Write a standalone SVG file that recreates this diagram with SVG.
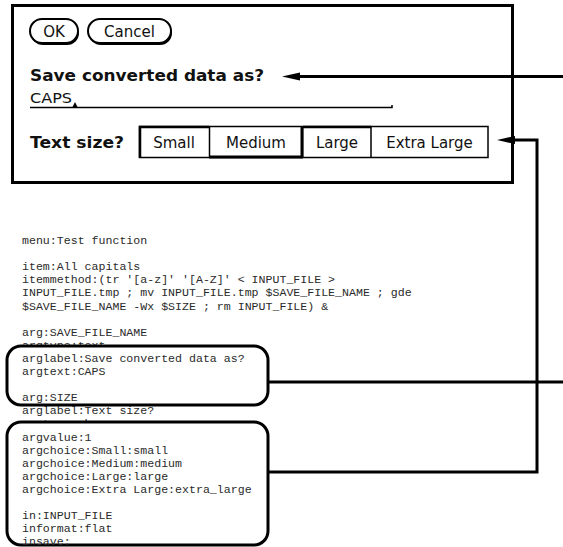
<svg xmlns="http://www.w3.org/2000/svg" width="563" height="547" viewBox="0 0 563 547">
<style>
.ui{font-family:"DejaVu Sans","Liberation Sans",sans-serif;fill:#111}
.lbl{font-size:15px;font-weight:bold}
.btn{font-size:15px}
.mono{font-family:"Liberation Mono","DejaVu Sans Mono",monospace;font-size:11.6px;fill:#2a2a2a}
.frame{fill:#fff;stroke:#000;stroke-width:3}
.pill{fill:#fff;stroke:#000;stroke-width:2}
.conn{fill:none;stroke:#000;stroke-width:3}
.rbox{fill:#fff;stroke:#000;stroke-width:3}
</style>
<defs>
<marker id="ah" markerUnits="userSpaceOnUse" markerWidth="20" markerHeight="10" refX="0" refY="4" orient="auto" overflow="visible">
<path d="M0,0 L18,4 L0,8 Z" fill="#000"/>
</marker>
</defs>
<rect width="563" height="547" fill="#fff"/>

<g id="dialog">
<rect class="frame" x="12.5" y="5.5" width="500" height="177"/>
<g id="ok-button">
<rect x="31" y="21" width="48" height="24" rx="12" fill="#000"/>
<rect class="pill" x="30" y="19" width="48" height="24" rx="12"/>
<text class="ui btn" x="54" y="37" text-anchor="middle">OK</text>
</g>
<g id="cancel-button">
<rect x="89" y="21" width="83" height="24" rx="12" fill="#000"/>
<rect class="pill" x="88" y="19" width="83" height="24" rx="12"/>
<text class="ui btn" x="129.5" y="37" text-anchor="middle">Cancel</text>
</g>
<g id="label-save">
<text class="ui lbl" x="30" y="81" textLength="234" lengthAdjust="spacingAndGlyphs">Save converted data as?</text>
</g>
<g id="field-caps">
<text class="ui" x="30" y="103" font-size="14" textLength="42" lengthAdjust="spacingAndGlyphs">CAPS</text>
<path d="M30,107.5 H392 V105" fill="none" stroke="#000" stroke-width="1.5"/>
<path d="M72,108 L75,102 L78,108 Z" fill="#000"/>
</g>
<g id="label-textsize">
<text class="ui lbl" x="30" y="148" textLength="94" lengthAdjust="spacingAndGlyphs">Text size?</text>
</g>
<g id="chooser">
<rect x="139.5" y="126.5" width="348.5" height="31" fill="#fff" stroke="#000" stroke-width="1.5"/>
<path d="M209.5,126 V158 M302.5,126 V158 M371,126 V158" stroke="#000" stroke-width="1.5"/>
<path d="M139,127 H209 M140,126 V158" stroke="#000" stroke-width="2.5"/>
<path d="M209,157 H303 M302,126 V158" stroke="#000" stroke-width="3"/>
<path d="M303,127 H371" stroke="#000" stroke-width="2.5"/>
<text class="ui btn" x="174" y="148" text-anchor="middle">Small</text>
<text class="ui btn" x="256" y="148" text-anchor="middle">Medium</text>
<text class="ui btn" x="337" y="148" text-anchor="middle">Large</text>
<text class="ui btn" x="429.5" y="148" text-anchor="middle">Extra Large</text>
</g>
</g>

<g id="listing" class="mono">
<text x="22" y="244">menu:Test function</text>
<text x="22" y="270.2">item:All capitals</text>
<text x="22" y="283.3">itemmethod:(tr '[a-z]' '[A-Z]' &lt; INPUT_FILE &gt;</text>
<text x="22" y="296.4">INPUT_FILE.tmp ; mv INPUT_FILE.tmp $SAVE_FILE_NAME ; gde</text>
<text x="22" y="309.5">$SAVE_FILE_NAME -Wx $SIZE ; rm INPUT_FILE) &amp;</text>
<text x="22" y="335.7">arg:SAVE_FILE_NAME</text>
<text x="22" y="348.8">argtype:text</text>
<text x="22" y="414.3">arglabel:Text size?</text>
<text x="22" y="427.4">argtype:chooser</text>
</g>

<g id="box-savefile">
<rect class="rbox" x="7" y="346" width="261" height="59" rx="14"/>
<g class="mono">
<text x="22" y="361.9">arglabel:Save converted data as?</text>
<text x="22" y="375">argtext:CAPS</text>
<text x="22" y="401.2">arg:SIZE</text>
</g>
</g>

<g id="box-size">
<rect class="rbox" x="7" y="422" width="261" height="123" rx="14"/>
<g class="mono">
<text x="22" y="440.5">argvalue:1</text>
<text x="22" y="453.6">argchoice:Small:small</text>
<text x="22" y="466.7">argchoice:Medium:medium</text>
<text x="22" y="479.8">argchoice:Large:large</text>
<text x="22" y="492.9">argchoice:Extra Large:extra_large</text>
<text x="22" y="519.1">in:INPUT_FILE</text>
<text x="22" y="532.2">informat:flat</text>
<text x="22" y="545.3">insave:</text>
</g>
</g>

<g id="connectors">
<path class="conn" d="M563,76.5 H300" marker-end="url(#ah)"/>
<path class="conn" d="M268,382 H563"/>
<path class="conn" d="M268,472 H537 V140 H515" marker-end="url(#ah)"/>
</g>
</svg>
